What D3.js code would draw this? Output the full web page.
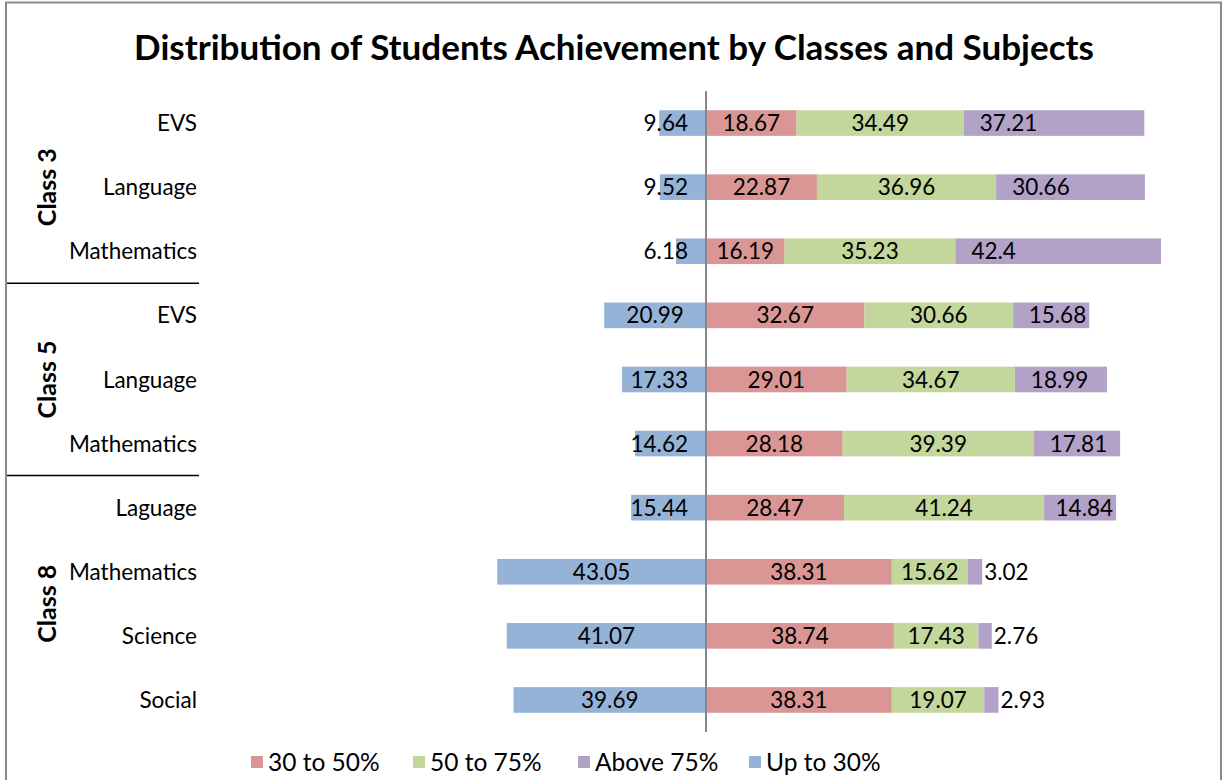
<!DOCTYPE html>
<html>
<head>
<meta charset="utf-8">
<script src="https://cdn.jsdelivr.net/npm/d3@7"></script>
<style>
  html, body { margin: 0; padding: 0; background: #fff; }
  svg { display: block; font-family: Lato, "Open Sans", sans-serif; }
</style>
</head>
<body>
<svg id="chart" width="1223" height="780"></svg>
<script>
// Subjects (one row each), the class each belongs to, and the four achievement bands
const subjects = ["EVS", "Language", "Mathematics", "EVS", "Language", "Mathematics", "Laguage", "Mathematics", "Science", "Social"];
const classOf  = ["Class 3", "Class 3", "Class 3", "Class 5", "Class 5", "Class 5", "Class 8", "Class 8", "Class 8", "Class 8"];
const upTo30   = [9.64, 9.52, 6.18, 20.99, 17.33, 14.62, 15.44, 43.05, 41.07, 39.69];
const p30to50  = [18.67, 22.87, 16.19, 32.67, 29.01, 28.18, 28.47, 38.31, 38.74, 38.31];
const p50to75  = [34.49, 36.96, 35.23, 30.66, 34.67, 39.39, 41.24, 15.62, 17.43, 19.07];
const above75  = [37.21, 30.66, 42.4, 15.68, 18.99, 17.81, 14.84, 3.02, 2.76, 2.93];
const seriesNames = ["30 to 50%", "50 to 75%", "Above 75%", "Up to 30%"];

const colors = {
  "30 to 50%": "#D99694",
  "50 to 75%": "#C3D69B",
  "Above 75%": "#B3A2C7",
  "Up to 30%": "#95B3D7"
};

const plot = { left: 221, right: 1191, top: 91, bottom: 732 };
const svg = d3.select("#chart");

// chart frame
svg.append("rect")
  .attr("x", 6).attr("y", 2.5).attr("width", 1215).attr("height", 800)
  .attr("fill", "#fff").attr("stroke", "#8a8a8a").attr("stroke-width", 2);

// title
svg.append("text")
  .attr("x", 614).attr("y", 60)
  .attr("text-anchor", "middle")
  .attr("font-weight", "bold").attr("font-size", 35)
  .attr("fill", "#000")
  .text("Distribution of Students Achievement by Classes and Subjects");

const rows = d3.range(subjects.length);
const y = d3.scaleBand().domain(rows).range([plot.top, plot.bottom])
  .paddingInner(0.6).paddingOuter(0.3);
const x = d3.scaleLinear().domain([-100, 100]).range([plot.left, plot.right]);

// segments: the lowest band grows left of zero, the rest stack to the right
const segs = [];
rows.forEach(i => {
  segs.push({ row: i, series: "Up to 30%", v: upTo30[i], x0: -upTo30[i], x1: 0 });
  let acc = 0;
  [["30 to 50%", p30to50[i]], ["50 to 75%", p50to75[i]], ["Above 75%", above75[i]]].forEach(([s, v]) => {
    segs.push({ row: i, series: s, v: v, x0: acc, x1: acc + v });
    acc += v;
  });
});

const g = svg.append("g");
g.selectAll("rect.seg").data(segs).join("rect")
  .attr("class", "seg")
  .attr("x", d => x(d.x0))
  .attr("width", d => x(d.x1) - x(d.x0))
  .attr("y", d => y(d.row))
  .attr("height", y.bandwidth())
  .attr("fill", d => colors[d.series]);

// value axis at zero
svg.append("line")
  .attr("x1", x(0)).attr("x2", x(0))
  .attr("y1", plot.top).attr("y2", plot.bottom)
  .attr("stroke", "#868686").attr("stroke-width", 2);

// data labels
const labels = g.selectAll("text.val").data(segs).join("text")
  .attr("class", "val")
  .attr("font-size", 22.5)
  .attr("fill", "#000")
  .attr("y", d => y(d.row) + y.bandwidth() / 2)
  .attr("dy", "0.36em")
  .text(d => d.v);

labels.each(function (d) {
  const t = d3.select(this);
  const w = this.getComputedTextLength();
  const a = x(d.x0), b = x(d.x1);
  const c = (a + b) / 2;
  if (d.series === "Up to 30%") {
    // centred, but kept clear of the zero line
    const cx = Math.min(c, x(0) - 18 - w / 2);
    t.attr("x", cx).attr("text-anchor", "middle");
  } else if (d.series === "Above 75%") {
    if (b - a < w * 0.75) {
      // too narrow: label sits just past the end of the bar
      t.attr("x", b + 2).attr("text-anchor", "start");
    } else {
      t.attr("x", Math.min(a + 16, b - 3 - w)).attr("text-anchor", "start");
    }
  } else {
    t.attr("x", c).attr("text-anchor", "middle");
  }
});

// category axis: subject labels
svg.append("g").selectAll("text").data(rows).join("text")
  .attr("x", 197)
  .attr("y", i => y(i) + y.bandwidth() / 2)
  .attr("dy", "0.36em")
  .attr("text-anchor", "end")
  .attr("font-size", 22.5)
  .attr("fill", "#000")
  .text(i => subjects[i]);

// class groups: separators and rotated group names
const groups = [];
rows.forEach(i => {
  const last = groups[groups.length - 1];
  if (!last || last.name !== classOf[i]) groups.push({ name: classOf[i], first: i, last: i });
  else last.last = i;
});
const step = y.step();
const cellTop = i => plot.top + i * step;

svg.append("g").selectAll("line").data(groups.slice(1)).join("line")
  .attr("x1", 7).attr("x2", 199)
  .attr("y1", d => cellTop(d.first)).attr("y2", d => cellTop(d.first))
  .attr("stroke", "#000").attr("stroke-width", 1.5);

svg.append("g").selectAll("text").data(groups).join("text")
  .attr("transform", d => {
    const cy = (cellTop(d.first) + cellTop(d.last + 1)) / 2;
    return `translate(47,${cy}) rotate(-90)`;
  })
  .attr("dy", "0.36em")
  .attr("text-anchor", "middle")
  .attr("font-weight", "bold")
  .attr("font-size", 25)
  .attr("fill", "#000")
  .text(d => d.name);

// legend
const legendX = [251, 413, 578, 749];
const lg = svg.append("g").selectAll("g").data(seriesNames).join("g")
  .attr("transform", (d, i) => `translate(${legendX[i]},762)`);
lg.append("rect").attr("x", 0).attr("y", -6).attr("width", 12).attr("height", 12)
  .attr("fill", d => colors[d]);
lg.append("text").attr("x", 17).attr("dy", "0.36em")
  .attr("font-size", 24.5).attr("fill", "#000")
  .text(d => d);
</script>
</body>
</html>
